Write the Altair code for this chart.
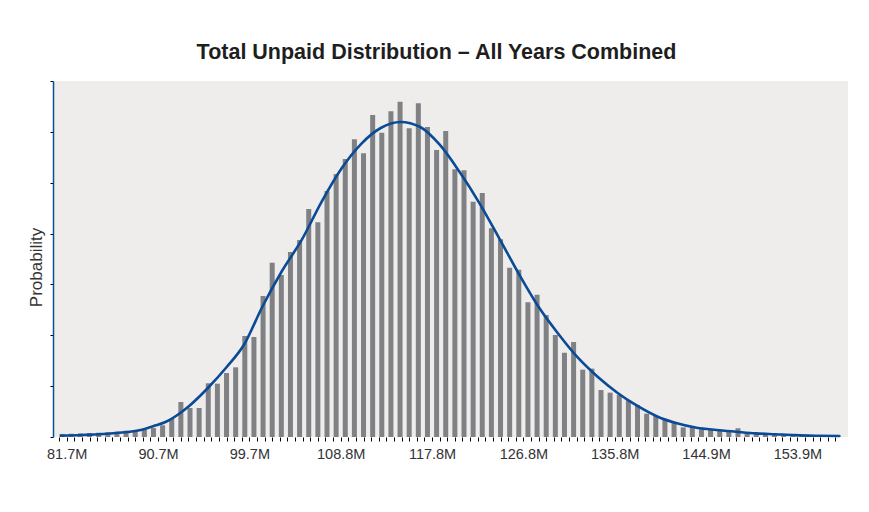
import json
import altair as alt
import pandas as pd

# ---------------- data ----------------
title_text = "Total Unpaid Distribution – All Years Combined"
y_title = "Probability"
tick_labels = ["81.7M", "90.7M", "99.7M", "108.8M", "117.8M",
               "126.8M", "135.8M", "144.9M", "153.9M"]
first_label_value = 81.68      # $M at first labelled tick
label_step = 9.025             # $M between labelled ticks
bins_per_label = 10            # histogram bins between labelled ticks
minor_per_label = 12           # axis tick marks between labelled ticks
x_min, x_max = 80.82, 158.39   # $M at the plot edges

# probability of each histogram bin (first bin lies just left of 81.7M)
bar_probability = [
    0.00030, 0.00032, 0.00036, 0.00039, 0.00042, 0.00046, 0.00052, 0.00062,
    0.00069, 0.00072, 0.00088, 0.00115, 0.00177, 0.00344, 0.00285, 0.00285,
    0.00528, 0.00524, 0.00629, 0.00685, 0.00993, 0.00983, 0.01386, 0.01714,
    0.01593, 0.01819, 0.01937, 0.02242, 0.02111, 0.02419, 0.02586, 0.02733,
    0.02927, 0.02789, 0.03166, 0.02992, 0.03202, 0.03297, 0.03035, 0.03281,
    0.03048, 0.02822, 0.03009, 0.02632, 0.02622, 0.02313, 0.02399, 0.02052,
    0.01944, 0.01665, 0.01645, 0.01324, 0.01399, 0.01199, 0.01003, 0.00829,
    0.00934, 0.00662, 0.00672, 0.00462, 0.00436, 0.00413, 0.00357, 0.00315,
    0.00229, 0.00206, 0.00174, 0.00145, 0.00095, 0.00101, 0.00076, 0.00069,
    0.00066, 0.00062, 0.00086, 0.00046, 0.00036, 0.00032, 0.00032, 0.00027,
    0.00023, 0.00020, 0.00020, 0.00020, 0.00017, 0.00017,
]

# smoothed density curve
curve_value = [
    81.00, 83.24, 86.56, 89.10, 90.27, 91.44, 92.90, 93.78, 95.63, 97.49,
    99.24, 101.00, 102.95, 104.90, 106.85, 108.80, 110.76, 112.71, 114.66,
    116.61, 118.56, 120.51, 122.46, 124.41, 126.37, 128.32, 130.27, 132.22,
    134.17, 136.12, 138.08, 140.03, 141.98, 143.93, 145.88, 147.83, 149.78,
    151.73, 153.69, 155.64, 158.08,
]
curve_probability = [
    0.000128, 0.000197, 0.000393, 0.000718, 0.00108, 0.00147, 0.00236,
    0.00305, 0.00482, 0.00688, 0.00914, 0.01278, 0.01632, 0.01937, 0.02310,
    0.02635, 0.02880, 0.03038, 0.03097, 0.03048, 0.02871, 0.02605, 0.02300,
    0.01956, 0.01602, 0.01278, 0.01013, 0.00777, 0.00590, 0.00433, 0.00305,
    0.00202, 0.00135, 0.00091, 0.00069, 0.00052, 0.00036, 0.00027, 0.00018,
    0.00013, 0.00010,
]
y_max = 0.035
y_tick_step = 0.005

# ---------------- tables ----------------
bin_width = label_step / bins_per_label
bars = pd.DataFrame({
    "value": [first_label_value + bin_width * (i - 1 + 0.5)
              for i in range(len(bar_probability))],
    "probability": bar_probability,
})
curve = pd.DataFrame({"value": curve_value, "probability": curve_probability})

minor_step = label_step / minor_per_label
x_tick_values = []
i = -1
while first_label_value + i * minor_step <= x_max + 1e-9:
    x_tick_values.append(round(first_label_value + i * minor_step, 6))
    i += 1
y_tick_values = [round(k * y_tick_step, 6) for k in range(int(round(y_max / y_tick_step)) + 1)]

label_expr = (
    f"(round((datum.value-{first_label_value})/{minor_step}) % {minor_per_label} == 0) "
    f"? {json.dumps(tick_labels)}[round((datum.value-{first_label_value})/{label_step})] : ''"
)

x_enc = alt.X(
    "value:Q",
    scale=alt.Scale(domain=[x_min, x_max], nice=False, zero=False),
    axis=alt.Axis(
        values=x_tick_values, labelExpr=label_expr, title=None, grid=False,
        domain=False, ticks=True, tickSize=4, tickColor="#000000", tickWidth=1,
        labelFontSize=14.5, labelColor="#333333", labelPadding=6,
        labelOverlap=False, labelFlush=False, labelBound=False,
    ),
)
y_enc = alt.Y(
    "probability:Q",
    scale=alt.Scale(domain=[0, y_max], nice=False),
    axis=alt.Axis(
        values=y_tick_values, labels=False, grid=False, title=y_title,
        domain=True, domainColor="#0b4c97", domainWidth=1.5,
        tickSize=3, tickColor="#000000", tickWidth=1,
        titleFontSize=17, titleFontWeight="normal", titleColor="#333333",
        titlePadding=4, titleY=186,
    ),
)

bar_layer = alt.Chart(bars).mark_bar(size=5, color="#808184").encode(x=x_enc, y=y_enc)
line_layer = alt.Chart(curve).mark_line(
    color="#0a4a96", strokeWidth=2.6, interpolate="monotone"
).encode(x=x_enc, y=y_enc)

chart = (
    alt.layer(bar_layer, line_layer)
    .properties(
        width=795, height=356,
        autosize=alt.AutoSizeParams(type="none"),
        padding={"left": 45, "top": 73, "right": 13, "bottom": 67},
        background="#ffffff",
        title=alt.TitleParams(
            title_text, anchor="middle", dx=-14, offset=17,
            fontSize=21.5, fontWeight="bold", color="#1e1e1e",
            font="Liberation Sans",
        ),
    )
    .configure(font="Liberation Sans")
    .configure_view(fill="#eeedeb", stroke=None)
)

chart.save("out.html", embed_options={"renderer": "svg", "actions": False})
